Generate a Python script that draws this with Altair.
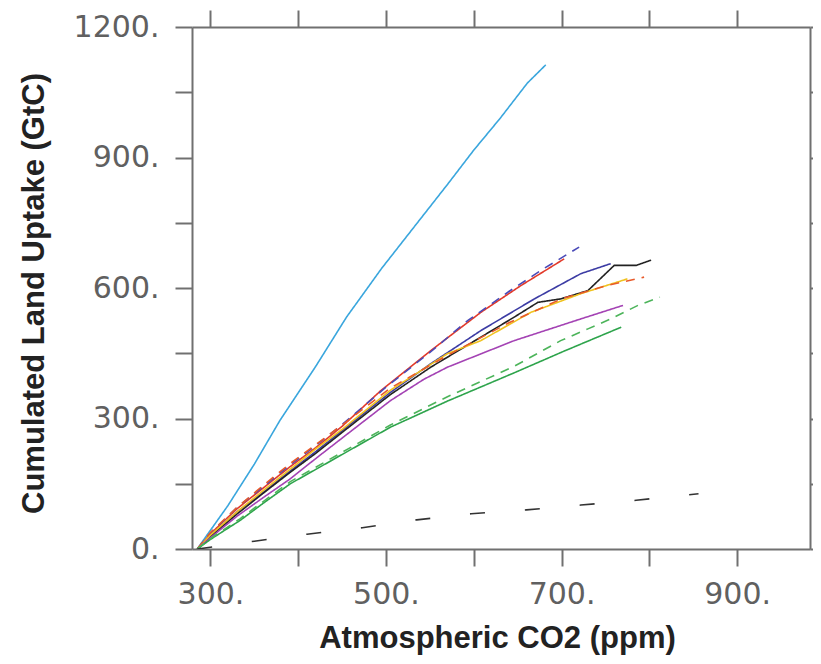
import altair as alt
import pandas as pd

# ---- data (ppm, GtC) ----
series_names = ["cyan", "red", "blue_dash", "navy", "black", "yellow",
                "orange_dash", "purple", "green", "green_dash", "black_dash"]
series_colors = ["#3aa6dd", "#e23a2a", "#4a4ab8", "#3c3ca4", "#222222", "#f0c21e",
                 "#e85a2a", "#a443b4", "#2ea44c", "#4cb45a", "#333333"]
series_dashes = [[1, 0], [1, 0], [9, 7], [1, 0], [1, 0], [1, 0],
                 [9, 7], [1, 0], [1, 0], [9, 7], [15, 40]]

cyan_ppm = [285, 294, 320, 350, 379, 420, 455, 495, 535, 570, 600, 630, 661, 682]
cyan_val = [0, 26, 100, 195, 295, 420, 533, 645, 748, 838, 917, 990, 1071, 1113]

red_ppm = [285, 300, 330, 360, 390, 420, 450, 494, 551, 608, 654, 703]
red_val = [0, 35, 92, 140, 188, 233, 282, 364, 456, 544, 606, 667]

bluedash_ppm = [285, 300, 330, 360, 390, 420, 450, 500, 550, 593, 640, 680, 720]
bluedash_val = [0, 36, 95, 143, 192, 238, 286, 372, 452, 525, 592, 645, 694]

navy_ppm = [285, 300, 330, 360, 390, 420, 450, 505, 551, 608, 669, 722, 756]
navy_val = [0, 30, 85, 130, 178, 224, 272, 360, 426, 502, 575, 633, 656]

black_ppm = [285, 300, 330, 360, 390, 420, 450, 505, 551, 608, 646, 673, 699, 730, 760, 785, 802]
black_val = [0, 28, 80, 128, 175, 220, 268, 355, 418, 487, 533, 567, 575, 594, 652, 652, 664]

yellow_ppm = [285, 300, 330, 360, 390, 420, 450, 505, 570, 608, 665, 722, 775]
yellow_val = [0, 32, 85, 134, 182, 230, 275, 365, 449, 479, 544, 587, 621]

orangedash_ppm = [285, 300, 330, 360, 390, 420, 450, 505, 570, 640, 700, 750, 794]
orangedash_val = [0, 38, 95, 146, 195, 240, 285, 370, 445, 520, 575, 605, 625]

purple_ppm = [285, 300, 330, 360, 390, 420, 450, 505, 543, 570, 646, 722, 770]
purple_val = [0, 26, 75, 118, 160, 208, 255, 341, 390, 418, 479, 529, 560]

green_ppm = [285, 300, 334, 362, 391, 420, 448, 505, 570, 646, 703, 768]
green_val = [0, 22, 66, 108, 150, 183, 215, 280, 340, 405, 455, 510]

greendash_ppm = [285, 300, 334, 362, 391, 420, 448, 505, 570, 646, 699, 730, 756, 787, 812]
greendash_val = [0, 24, 70, 112, 155, 188, 220, 285, 350, 420, 479, 506, 529, 560, 579]

blackdash_ppm = [285, 350, 410, 473, 535, 597, 660, 722, 785, 856]
blackdash_val = [0, 18, 34, 49, 67, 81, 90, 101, 112, 127]

all_ppm = [cyan_ppm, red_ppm, bluedash_ppm, navy_ppm, black_ppm, yellow_ppm,
           orangedash_ppm, purple_ppm, green_ppm, greendash_ppm, blackdash_ppm]
all_val = [cyan_val, red_val, bluedash_val, navy_val, black_val, yellow_val,
           orangedash_val, purple_val, green_val, greendash_val, blackdash_val]

x_ticks = [300, 400, 500, 600, 700, 800, 900]
y_ticks = [0, 150, 300, 450, 600, 750, 900, 1050, 1200]

rows = []
for name, xs, ys in zip(series_names, all_ppm, all_val):
    for i, (a, b) in enumerate(zip(xs, ys)):
        rows.append({"series": name, "ppm": a, "uptake": b, "idx": i})
df = pd.DataFrame(rows)

xscale = alt.Scale(domain=[279, 983], nice=False, zero=False)
yscale = alt.Scale(domain=[0, 1200], nice=False, zero=False)

AX_COLOR = "#707070"
LABEL_FONT = "DejaVu Sans"
TITLE_FONT = "Liberation Sans"

lines = alt.Chart(df).mark_line(strokeWidth=1.6, clip=True).encode(
    x=alt.X("ppm:Q", scale=xscale,
            axis=alt.Axis(orient="bottom", values=x_ticks,
                          labelExpr="datum.value % 200 == 100 ? datum.value + '.' : ''",
                          title="Atmospheric CO2 (ppm)", grid=False,
                          tickSize=17, tickWidth=2, tickColor=AX_COLOR,
                          domainColor=AX_COLOR, domainWidth=2,
                          labelFont=LABEL_FONT, labelFontSize=30, labelColor="#606060",
                          labelPadding=13, labelFlush=False, labelOverlap=False,
                          titleFont=TITLE_FONT, titleFontSize=31, titleFontWeight="bold",
                          titleColor="#222222", titleBaseline="alphabetic",
                          titleX=305, titleY=98, titleAlign="center")),
    y=alt.Y("uptake:Q", scale=yscale,
            axis=alt.Axis(orient="left", values=y_ticks,
                          labelExpr="datum.value % 300 == 0 ? datum.value + '.' : ''",
                          title="Cumulated Land Uptake (GtC)", grid=False,
                          tickSize=17, tickWidth=2, tickColor=AX_COLOR,
                          domainColor=AX_COLOR, domainWidth=2,
                          labelFont=LABEL_FONT, labelFontSize=30, labelColor="#606060",
                          labelPadding=16, labelFlush=False, labelOverlap=False,
                          titleFont=TITLE_FONT, titleFontSize=31, titleFontWeight="bold",
                          titleColor="#222222", titleBaseline="alphabetic",
                          titleAngle=270, titleX=-149, titleY=266, titleAlign="center")),
    color=alt.Color("series:N", scale=alt.Scale(domain=series_names, range=series_colors), legend=None),
    strokeDash=alt.StrokeDash("series:N", scale=alt.Scale(domain=series_names, range=series_dashes), legend=None),
    order=alt.Order("idx:Q"),
)

frame = alt.Chart(df).mark_point(opacity=0).encode(
    x=alt.X("ppm:Q", scale=xscale,
            axis=alt.Axis(orient="top", values=x_ticks, labels=False, title=None, grid=False,
                          tickSize=17, tickWidth=2, tickColor=AX_COLOR,
                          domainColor=AX_COLOR, domainWidth=2)),
    y=alt.Y("uptake:Q", scale=yscale,
            axis=alt.Axis(orient="right", values=y_ticks, labels=False, title=None, grid=False,
                          tickSize=17, tickWidth=2, tickColor=AX_COLOR,
                          domainColor=AX_COLOR, domainWidth=2)),
)

chart = alt.layer(frame, lines).resolve_axis(x="independent", y="independent").properties(
    width=618, height=522,
    autosize=alt.AutoSizeParams(type="none"),
    padding={"left": 184, "top": 19, "right": 3, "bottom": 107},
    background="white",
).configure_view(stroke=None)

chart.save("out.html", embed_options={"renderer": "svg", "actions": False})
